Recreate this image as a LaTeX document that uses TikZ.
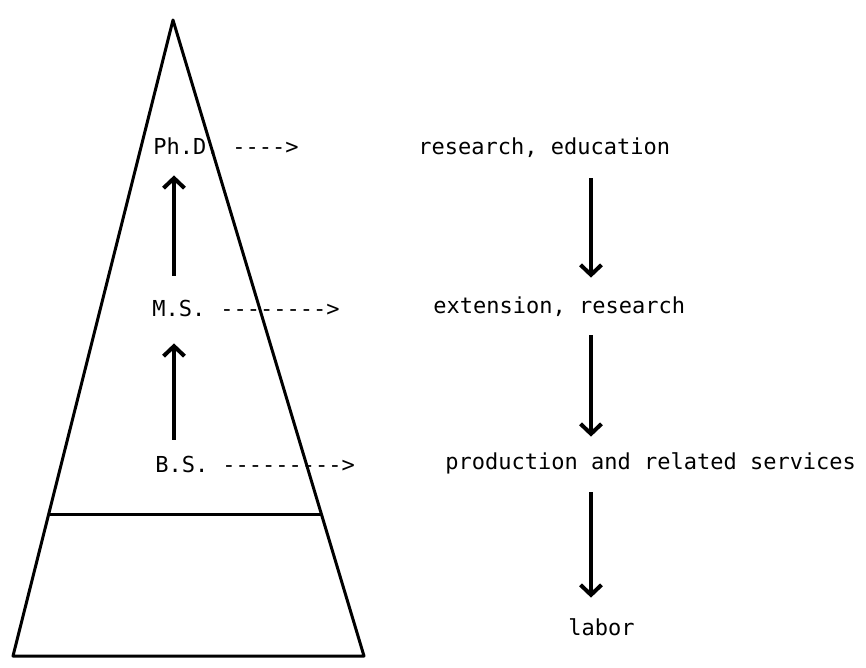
\documentclass[tikz,border=0pt]{standalone}
\usepackage{fontspec}
\setmonofont{DejaVu Sans Mono}
\usetikzlibrary{arrows.meta,calc}

\begin{document}
\begin{tikzpicture}[x=0.5pt,y=-0.5pt,
    lbl/.style={inner sep=0pt,anchor=base west,text height=8.5pt,text depth=0pt,
      font=\ttfamily\fontsize{11}{13}\selectfont},
    edge/.style={line width=1.5pt,line join=round},
    flow/.style={line width=2pt,-{Straight Barb[length=5pt,width=10.5pt]}}]
    \useasboundingbox (0,0) rectangle (866,668);
    % pyramid
    \coordinate (top) at (173,20);
    \coordinate (bl) at (13,656);
    \coordinate (br) at (364,656);
    \draw [edge] (bl) -- (top) -- (br) -- cycle;
    \draw [edge] ($(bl)!0.223!(top)$) -- ($(br)!0.223!(top)$);
    % degrees
    \node [lbl] (phd) at (153,155) {Ph.D.};
    \node [lbl] (ms) at (152,316) {M.S.};
    \node [lbl] (bs) at (155,472) {B.S.};
    \node [lbl] at (232,155) {---->};
    \node [lbl] at (220,316) {-------->};
    \node [lbl] at (222,472) {--------->};
    % jobs
    \node [lbl] (res) at (418,155) {research, education};
    \node [lbl] (ext) at (433,313) {extension, research};
    \node [lbl] (prod) at (445,469) {production and related services};
    \node [lbl] (lab) at (568,635) {labor};
    \coordinate (upcol) at (174,0);
    \coordinate (dncol) at (591,0);
    \draw [flow] ([yshift=11.5pt]ms.north -| upcol) -- ([yshift=-10pt]phd.south -| upcol);
    \draw [flow] ([yshift=7.5pt]bs.north -| upcol) -- ([yshift=-13.5pt]ms.south -| upcol);
    \draw [flow] ([yshift=-11.5pt]res.south -| dncol) -- ([yshift=9pt]ext.north -| dncol);
    \draw [flow] ([yshift=-11pt]ext.south -| dncol) -- ([yshift=7.5pt]prod.north -| dncol);
    \draw [flow] ([yshift=-11.5pt]prod.south -| dncol) -- ([yshift=10pt]lab.north -| dncol);
\end{tikzpicture}
\end{document}
